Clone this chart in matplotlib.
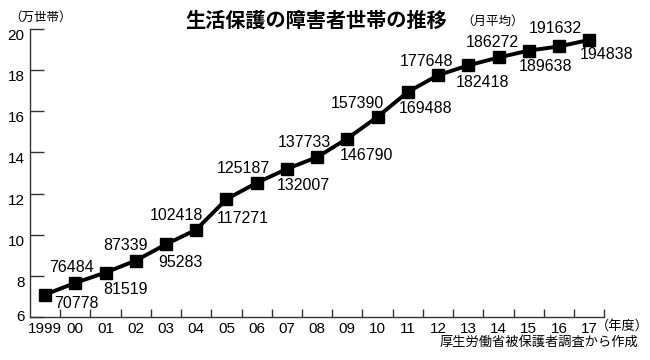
import matplotlib
matplotlib.use('Agg')
import matplotlib.pyplot as plt
from matplotlib import font_manager
import numpy as np

# data: 障害者世帯数 (月平均)
year_labels = ['1999', '00', '01', '02', '03', '04', '05', '06', '07', '08',
               '09', '10', '11', '12', '13', '14', '15', '16', '17']
households = [70778, 76484, 81519, 87339, 95283, 102418, 117271, 125187,
              132007, 137733, 146790, 157390, 169488, 177648, 182418,
              186272, 189638, 191632, 194838]
y_ticks = [6, 8, 10, 12, 14, 16, 18, 20]

# label offsets in pixels (dx, dy), placed by hand like the original
label_offsets = [(31, -9), (-4, 15), (20, -17), (-10, 15), (14, -18), (-20, 14),
                 (16, -19), (-13, 14), (16, -17), (-13, 15), (19, -17),
                 (-20, 13), (18, -17), (-12, 14), (14, -17), (-6, 15),
                 (17, -16), (-4, 18), (17, -15)]

names = {f.name for f in font_manager.fontManager.ttflist}
if 'Liberation Sans Narrow' in names:
    num_font, lab_size, tick_size = 'Liberation Sans Narrow', 12.5, 12.5
else:
    num_font, lab_size, tick_size = 'Liberation Sans', 11.5, 11
jp_font = ['Noto Sans CJK JP', 'DejaVu Sans']

x = np.arange(len(year_labels))
y = np.array(households) / 10000

fig = plt.figure(figsize=(6.5, 3.6), dpi=100)
ax = fig.add_axes([0.04615, 0.12028, 0.88354, 0.79833])

ax.plot(x, y, color='black', lw=2.8, marker='s', ms=8.6,
        markerfacecolor='black', markeredgecolor='black', zorder=3)

for xi, yi, v, (dx, dy) in zip(x, y, households, label_offsets):
    ax.annotate(str(v), (xi, yi), xytext=(dx, dy), textcoords='offset pixels',
                ha='center', va='center', fontsize=lab_size, family=num_font)

ax.set_xlim(-0.5, len(x) - 0.5)
ax.set_ylim(6, 20)

for s in ['top', 'right']:
    ax.spines[s].set_visible(False)
for s in ['left', 'bottom']:
    ax.spines[s].set_color('#333333')
    ax.spines[s].set_linewidth(1.0)

ax.set_yticks(y_ticks)
ax.set_yticklabels([str(t) for t in y_ticks], family=num_font, fontsize=tick_size)
ax.tick_params(axis='y', direction='in', length=10, width=1, color='#333333', pad=4)
for lab in ax.get_yticklabels():
    lab.set_va('top')
ax.get_yticklabels()[0].set_va('center')

ax.set_xticks(x)
ax.set_xticklabels(year_labels, family=num_font, fontsize=tick_size)
ax.set_xticks(np.arange(0.5, len(x), 1), minor=True)
ax.tick_params(axis='x', which='major', length=0, pad=4)
ax.tick_params(axis='x', which='minor', direction='in', length=6, width=1, color='#333333')

fig.text(316 / 650, 1 - 20 / 360, '生活保護の障害者世帯の推移', family=jp_font,
         fontsize=14.5, fontweight='bold', ha='center', va='center')
fig.text(461 / 650, 1 - 21 / 360, '（月平均）', family=jp_font,
         fontsize=9, ha='left', va='center')
fig.text(9 / 650, 1 - 17 / 360, '（万世帯）', family=jp_font,
         fontsize=9, ha='left', va='center')
fig.text(596 / 650, 1 - 326 / 360, '（年度）', family=jp_font,
         fontsize=9.5, ha='left', va='center')
fig.text(638 / 650, 1 - 342.5 / 360, '厚生労働省被保護者調査から作成', family=jp_font,
         fontsize=9.5, ha='right', va='center')

fig.savefig('out.png', dpi=100)
